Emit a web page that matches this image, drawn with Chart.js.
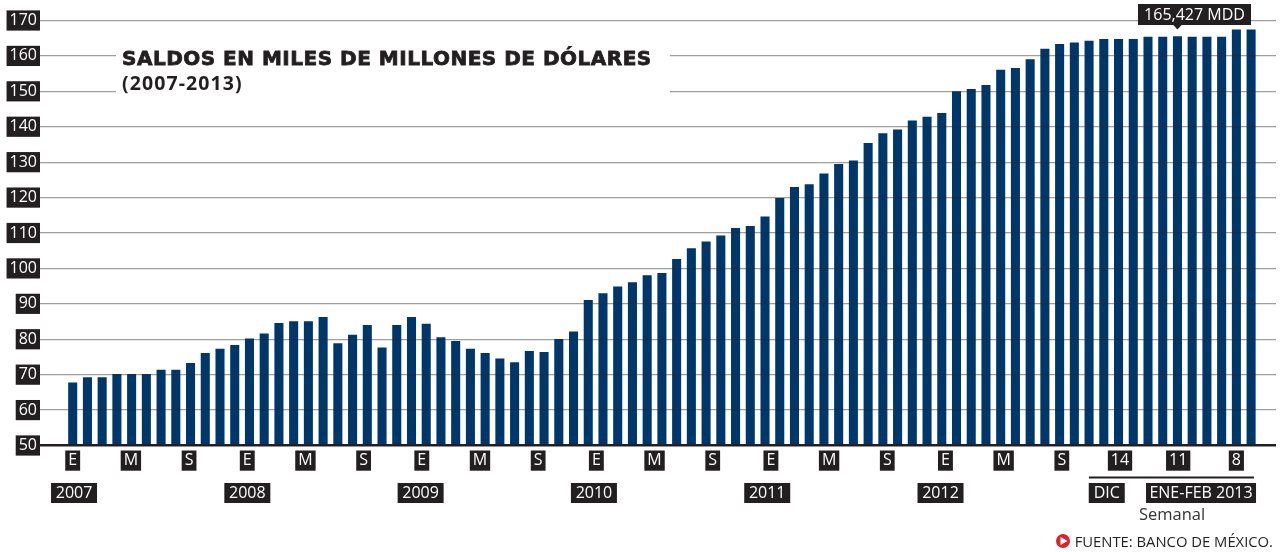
<!DOCTYPE html>
<html lang="es">
<head>
<meta charset="utf-8">
<title>Saldos en miles de millones de dólares</title>
<script src="https://cdn.jsdelivr.net/npm/chart.js@4/dist/chart.umd.min.js"></script>
<style>
  html, body { margin: 0; padding: 0; background: #fff; }
  #wrap { width: 1282px; height: 552px; }
</style>
</head>
<body>
<div id="wrap"><canvas id="saldos"></canvas></div>
<script>
// Monthly balances, then the weekly readings at the end (miles de millones de dolares)
const saldos = [
  67.7, 69.2, 69.2, 70.1, 70.1, 70.1, 71.3, 71.3, 73.2, 76.0, 77.2, 78.3,
  80.1, 81.5, 84.5, 85.0, 85.0, 86.2, 78.8, 81.2, 83.9, 77.6, 83.9, 86.2,
  84.3, 80.5, 79.4, 77.2, 76.0, 74.5, 73.4, 76.6, 76.3, 80.0, 82.1, 91.0,
  92.9, 94.8, 96.0, 98.0, 98.6, 102.6, 105.6, 107.5, 109.2, 111.3, 111.9, 114.6,
  119.8, 122.9, 123.7, 126.7, 129.4, 130.4, 135.3, 138.1, 139.1, 141.7, 142.7, 143.8,
  149.9, 150.6, 151.7, 156.0, 156.5, 159.0, 161.9, 163.3, 163.7, 164.2, 164.7, 164.7,
  164.7, 165.3, 165.3, 165.427, 165.3, 165.3, 165.3, 167.4, 167.4
];
const xLabels = ['E', 'M', 'S', 'E', 'M', 'S', 'E', 'M', 'S', 'E', 'M', 'S',
  'E', 'M', 'S', 'E', 'M', 'S', '14', '11', '8'];
const yearLabels = ['2007', '2008', '2009', '2010', '2011', '2012'];
const markedBar = 75;
const markedLabel = '165,427 MDD';

const DARK = '#231f20';
const BLUE = '#00376b';
const LABEL_FONT = '"Open Sans", sans-serif';

// the axis counts bars; a label falls every 3.95 bars, a year every 11.765
const tickStep = 3.95;
const yearStep = 11.765;

// black tag with white text, used for the labels below the axis
function tag(ctx, text, cx, cy, w) {
  ctx.fillStyle = DARK;
  ctx.fillRect(cx - w / 2, cy - 10, w, 20);
  ctx.fillStyle = '#fff';
  ctx.textAlign = 'center';
  ctx.textBaseline = 'middle';
  ctx.fillText(text, cx, cy + 0.5);
}

const extras = {
  id: 'extras',
  afterDraw(chart) {
    const ctx = chart.ctx;
    const x = chart.scales.x;
    ctx.save();

    // title block sits on a white patch that cuts the grid lines
    ctx.fillStyle = '#fff';
    ctx.fillRect(116, 40, 554, 55);
    ctx.fillStyle = DARK;
    ctx.strokeStyle = DARK;
    ctx.lineWidth = 0.8;
    ctx.textAlign = 'left';
    ctx.textBaseline = 'middle';
    ctx.font = 'bold 20px "DejaVu Sans", sans-serif';
    ctx.letterSpacing = '0.5px';
    ctx.fillText('SALDOS EN MILES DE MILLONES DE DÓLARES', 122, 60);
    ctx.strokeText('SALDOS EN MILES DE MILLONES DE DÓLARES', 122, 60);
    ctx.font = '700 19.5px "Open Sans", sans-serif';
    ctx.letterSpacing = '1.1px';
    ctx.fillText('(2007-2013)', 122, 84);
    ctx.letterSpacing = '0px';

    // year row
    ctx.font = '16px ' + LABEL_FONT;
    yearLabels.forEach((year, i) => {
      tag(ctx, year, x.getPixelForValue(0.09 + i * yearStep), 493, 46);
    });

    // weekly section
    ctx.fillStyle = DARK;
    ctx.fillRect(x.getPixelForValue(68.99), 476.5, x.getPixelForValue(80.2) - x.getPixelForValue(68.99), 2);
    tag(ctx, 'DIC', x.getPixelForValue(70.2), 493, 36);
    tag(ctx, 'ENE-FEB 2013', x.getPixelForValue(76.6), 493, 110);
    ctx.fillStyle = '#333';
    ctx.font = '16.5px ' + LABEL_FONT;
    ctx.fillText('Semanal', 1172, 515);

    // source line with its red bullet
    ctx.fillStyle = '#d8262c';
    ctx.beginPath();
    ctx.arc(1063, 541, 7, 0, Math.PI * 2);
    ctx.fill();
    ctx.fillStyle = '#fff';
    ctx.beginPath();
    ctx.moveTo(1060.5, 537);
    ctx.lineTo(1067.5, 541);
    ctx.lineTo(1060.5, 545);
    ctx.closePath();
    ctx.fill();
    ctx.fillStyle = DARK;
    ctx.textAlign = 'right';
    ctx.font = '14.8px ' + LABEL_FONT;
    ctx.fillText('FUENTE: BANCO DE MÉXICO.', 1273, 543);

    // callout on the marked week
    const tipX = x.getPixelForValue(markedBar);
    ctx.fillStyle = DARK;
    ctx.fillRect(1138, 4, 113, 21);
    ctx.beginPath();
    ctx.moveTo(tipX - 5, 24);
    ctx.lineTo(tipX + 5, 24);
    ctx.lineTo(tipX, 29.5);
    ctx.closePath();
    ctx.fill();
    ctx.fillStyle = '#fff';
    ctx.textAlign = 'center';
    ctx.font = '16px ' + LABEL_FONT;
    ctx.fillText(markedLabel, 1194.5, 15);

    ctx.restore();
  }
};

new Chart(document.getElementById('saldos'), {
  type: 'bar',
  data: {
    datasets: [{
      data: saldos.map((y, i) => ({ x: i, y: y })),
      backgroundColor: BLUE,
      barThickness: 8.4
    }]
  },
  options: {
    responsive: true,
    maintainAspectRatio: false,
    animation: false,
    layout: { padding: { top: 20.5, right: 6, left: 0, bottom: 0 } },
    plugins: { legend: { display: false }, tooltip: { enabled: false } },
    scales: {
      x: {
        type: 'linear',
        offset: false,
        min: -2.22,
        max: 81.69,
        afterBuildTicks(scale) {
          scale.ticks = xLabels.map((_, i) => ({ value: i * tickStep }));
        },
        afterFit(scale) { scale.height = 106.5; },
        grid: { display: false, drawTicks: false, tickLength: 0 },
        border: { display: false },
        ticks: {
          autoSkip: false,
          maxRotation: 0,
          padding: 5.5,
          color: '#fff',
          font: { family: LABEL_FONT, size: 16 },
          showLabelBackdrop: true,
          backdropColor: DARK,
          backdropPadding: { x: 3, y: 0.5 },
          callback: (value, index) => xLabels[index]
        }
      },
      y: {
        min: 50,
        max: 170,
        afterFit(scale) { scale.width = 40; },
        border: { display: false },
        grid: {
          z: 1,
          drawTicks: false,
          color: (c) => c.tick.value === 50 ? DARK : 'rgba(40,40,40,0.45)',
          lineWidth: (c) => c.tick.value === 50 ? 2.4 : 1.2
        },
        ticks: {
          stepSize: 10,
          padding: 3,
          color: '#fff',
          font: { family: LABEL_FONT, size: 16 },
          showLabelBackdrop: true,
          backdropColor: DARK,
          backdropPadding: { x: 3, y: 0.5 }
        }
      }
    }
  },
  plugins: [extras]
});
</script>
</body>
</html>
